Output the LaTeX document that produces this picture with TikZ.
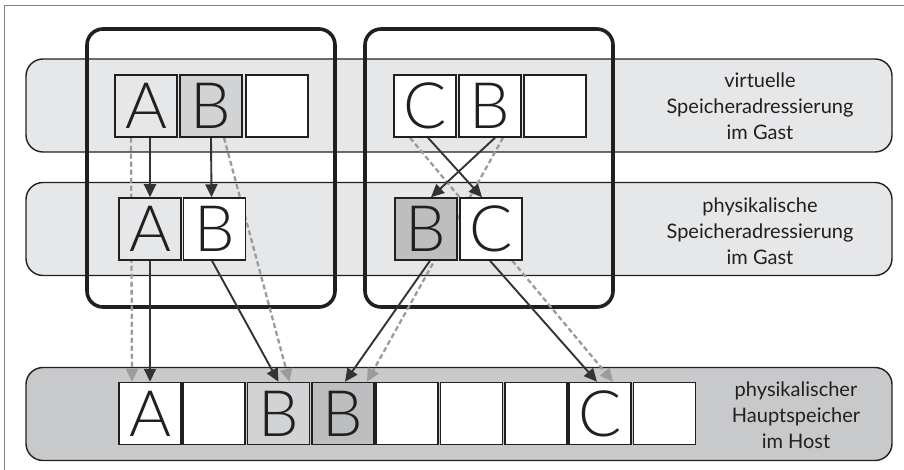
\documentclass[tikz,border=0pt]{standalone}
\usepackage{fontspec}
\setmainfont{Lato}
\newfontfamily\cellfont{Lato Light}
\usetikzlibrary{arrows.meta}
\definecolor{ink}{HTML}{231F20}
\definecolor{framegray}{HTML}{808080}
\definecolor{bandlight}{HTML}{E6E7E8}
\definecolor{banddark}{HTML}{C8C9CB}
\definecolor{cellmid}{HTML}{D1D3D4}
\definecolor{celldark}{HTML}{BCBEC0}
\definecolor{solidline}{HTML}{333333}
\definecolor{dashline}{HTML}{9A9B9D}
\pgfdeclarelayer{bg}
\pgfsetlayers{bg,main}
\tikzset{
  band/.style={draw=ink, line width=1.4pt, rounded corners=17pt, inner sep=0pt,
    minimum width=866pt, minimum height=93pt},
  guest/.style={draw=ink, line width=3.6pt, rounded corners=16pt, inner sep=0pt,
    minimum width=248pt, minimum height=278pt},
  cell/.style={draw=ink, line width=1.5pt, fill=white, minimum width=62pt,
    minimum height=62pt, inner sep=0pt, text=ink,
    font=\cellfont\fontsize{64}{64}\selectfont},
  lbl/.style={align=center, text=ink, inner sep=0pt,
    font=\fontsize{20}{26}\selectfont},
  solidarrow/.style={draw=solidline, line width=1.9pt,
    -{Triangle[length=13pt,width=12pt,fill=solidline]}},
  dasharrow/.style={draw=dashline, line width=2.3pt, dash pattern=on 5pt off 3pt,
    -{Triangle[length=13pt,width=12pt,fill=dashline]}}
}
\begin{document}
\begin{tikzpicture}[x=1pt,y=-1pt]
\useasboundingbox (0,0) rectangle (904,470);
% cells row 1
\node[cell, fill=bandlight] (v1A) at (146,106) {A};
\node[cell, fill=cellmid]   (v1B) at (211,106) {B};
\node[cell]                 (v1E) at (277,106) {};
\node[cell]                 (v2C) at (425,106) {C};
\node[cell]                 (v2B) at (490,106) {B};
\node[cell]                 (v2E) at (555,106) {};
% cells row 2
\node[cell, fill=bandlight] (g1A) at (150,229) {A};
\node[cell]                 (g1B) at (214.5,229) {B};
\node[cell, fill=celldark]  (g2B) at (426,229) {B};
\node[cell]                 (g2C) at (491,229) {C};
% cells row 3
\node[cell] (h1) at (150,413.5) {A};
\node[cell] (h2) at (214,413.5) {};
\node[cell, fill=cellmid]  (h3) at (278.5,413.5) {B};
\node[cell, fill=celldark] (h4) at (343,413.5) {B};
\node[cell] (h5) at (407,413.5) {};
\node[cell] (h6) at (471.5,413.5) {};
\node[cell] (h7) at (536,413.5) {};
\node[cell] (h8) at (600,413.5) {C};
\node[cell] (h9) at (664.5,413.5) {};
% labels
\node[lbl] (l1) at (760,106) {virtuelle\\Speicheradressierung\\im Gast};
\node[lbl] (l2) at (760,231) {physikalische\\Speicheradressierung\\im Gast};
\node[lbl] (l3) at (796,415) {physikalischer\\Hauptspeicher\\im Host};
\begin{pgfonlayer}{bg}
  \draw[framegray, line width=1.5pt] (4.5,480) -- (4.5,5.5) -- (915,5.5);
  \node[band, fill=bandlight] (b1) at (459,105.5) {};
  \node[band, fill=bandlight] (b2) at (459,229) {};
  \node[band, fill=banddark]  (b3) at (459,414) {};
  \node[guest] (gb1) at (211,168) {};
  \node[guest] (gb2) at (489,168) {};
  % dashed direct mappings
  \draw[dasharrow] ([xshift=-15pt]v1A.south) -- ([xshift=-18pt]h1.north);
  \draw[dasharrow] ([xshift=13pt]v1B.south) -- ([xshift=11pt]h3.north);
  \draw[dasharrow] ([xshift=-15pt]v2C.south) -- ([xshift=13pt]h8.north);
  \draw[dasharrow] ([xshift=13pt]v2B.south) -- ([xshift=24pt]h4.north);
  % solid two-stage mappings
  \draw[solidarrow] ([xshift=4pt]v1A.south) -- (g1A.north);
  \draw[solidarrow] (v1B.south) -- ([xshift=-3pt]g1B.north);
  \draw[solidarrow] (g1A.south) -- (h1.north);
  \draw[solidarrow] ([xshift=-2.5pt]g1B.south) -- (h3.north);
  \draw[solidarrow] ([xshift=3pt]v2C.south) -- ([xshift=-9pt]g2C.north);
  \draw[solidarrow] ([xshift=5pt]v2B.south) -- ([xshift=5pt]g2B.north);
  \draw[solidarrow] ([xshift=4pt]g2B.south) -- ([xshift=2pt]h4.north);
  \draw[solidarrow] ([xshift=-1pt]g2C.south) -- ([xshift=-3pt]h8.north);
\end{pgfonlayer}
\end{tikzpicture}
\end{document}
